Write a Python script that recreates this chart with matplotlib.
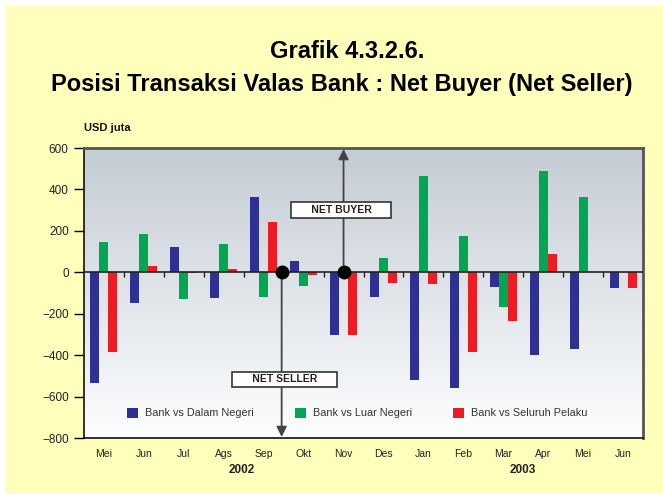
import numpy as np
import matplotlib
matplotlib.use("Agg")
import matplotlib.pyplot as plt
from matplotlib.patches import Rectangle
import matplotlib.transforms as mtransforms

plt.rcParams["font.family"] = ["Liberation Sans", "DejaVu Sans"]

months = ["Mei", "Jun", "Jul", "Ags", "Sep", "Okt", "Nov",
          "Des", "Jan", "Feb", "Mar", "Apr", "Mei", "Jun"]
dalam_negeri = [-535, -150, 122, -123, 364, 55, -305,
                -118, -520, -558, -70, -400, -371, -75]
luar_negeri = [145, 185, -130, 137, -118, -65, 0,
               70, 465, 175, -166, 490, 364, 0]
seluruh_pelaku = [-385, 30, -3, 17, 243, -12, -305,
                  -50, -55, -384, -234, 88, 0, -75]
years = ["2002", "2003"]
year_pos = [3.46, 10.5]

c_blue = "#2E3192"
c_green = "#00A651"
c_red = "#ED1C24"
bg_yellow = "#FFFFBB"

fig = plt.figure(figsize=(6.63, 4.94), dpi=100)
fig.patch.set_facecolor("white")
fig.patches.append(Rectangle((5 / 663, 0), 1, 1 - 6 / 494, transform=fig.transFigure,
                             facecolor=bg_yellow, edgecolor="none", zorder=-10))

ax = fig.add_axes([84 / 663, 1 - 438 / 494, 559 / 663, 290 / 494])
ax.set_facecolor("none")

x = np.arange(len(months))
w = 0.225
ax.set_xlim(-0.5, len(months) - 0.5)

# vertical gradient in the plot area (grey-blue at top, white at bottom)
grad = np.linspace(0, 1, 256).reshape(-1, 1, 1)
top = np.array([196, 204, 212]) / 255
bot = np.array([253, 254, 255]) / 255
img = top + (bot - top) * grad
ax.imshow(img, aspect="auto", origin="upper",
          extent=(-0.5, len(months) - 0.5, -800, 600), zorder=0)
ax.set_ylim(-800, 600)

ax.bar(x - w, dalam_negeri, w, color=c_blue, zorder=2, label="Bank vs Dalam Negeri")
ax.bar(x, luar_negeri, w, color=c_green, zorder=2, label="Bank vs Luar Negeri")
ax.bar(x + w, seluruh_pelaku, w, color=c_red, zorder=2, label="Bank vs Seluruh Pelaku")

# zero line with small ticks between month groups
ax.axhline(0, color="#222222", linewidth=1.2, zorder=3)
ax.vlines(x[1:] - 0.5, -25, 0, color="#222222", linewidth=1.0, zorder=3)

# net buyer / net seller arrows
ax.annotate("", xy=(6, 595), xytext=(6, 0),
            arrowprops=dict(arrowstyle="-|>", color="#444444", lw=1.3,
                            mutation_scale=15, shrinkA=0, shrinkB=0), zorder=4)
ax.annotate("", xy=(4.45, -795), xytext=(4.45, 0),
            arrowprops=dict(arrowstyle="-|>", color="#444444", lw=1.3,
                            mutation_scale=15, shrinkA=0, shrinkB=0), zorder=4)
ax.plot([6, 4.45], [0, 0], "o", color="black", markersize=9, zorder=5)

box = dict(boxstyle="square,pad=0.25", facecolor="white", edgecolor="#333333", linewidth=1.2)
ax.text(5.94, 301, "      NET BUYER      ", ha="center", va="center", fontsize=7.5,
        fontweight="bold", color="#222222", bbox=box, zorder=6)
ax.text(4.53, -516, "      NET SELLER      ", ha="center", va="center", fontsize=7.5,
        fontweight="bold", color="#222222", bbox=box, zorder=6)

leg = ax.legend(loc="center left", bbox_to_anchor=(0.077, -680), ncol=3,
                bbox_transform=mtransforms.blended_transform_factory(ax.transAxes, ax.transData),
                frameon=False, fontsize=7.8, handlelength=1.0, handleheight=1.0,
                handletextpad=0.65, columnspacing=3.8, borderaxespad=0, borderpad=0)
for t in leg.get_texts():
    t.set_color("#333333")

# axes styling
for s in ["left", "bottom"]:
    ax.spines[s].set_color("#111111")
    ax.spines[s].set_linewidth(1.2)
for s in ["top", "right"]:
    ax.spines[s].set_color("#555555")
    ax.spines[s].set_linewidth(2.0)

ax.set_yticks(np.arange(-800, 601, 200))
ax.tick_params(axis="y", direction="out", length=7, width=1.0, labelsize=8.5,
               labelcolor="#222222", pad=4)
ax.set_xticks(x)
ax.set_xticklabels(months)
ax.tick_params(axis="x", length=0, labelsize=7.5, labelcolor="#222222", pad=8)

trans = mtransforms.blended_transform_factory(ax.transData, ax.transAxes)
for yr, xp in zip(years, year_pos):
    ax.text(xp, -0.11, yr, transform=trans, ha="center", va="center",
            fontsize=8.5, fontweight="bold", color="#222222")

ax.text(0, 1.07, "USD juta", transform=ax.transAxes, ha="left", va="center",
        fontsize=8, fontweight="bold", color="#111111")

fig.text(0.523, 1 - 52 / 494, "Grafik 4.3.2.6.", ha="center", va="center",
         fontsize=17, fontweight="bold", color="black")
fig.text(0.516, 1 - 84 / 494, "Posisi Transaksi Valas Bank : Net Buyer (Net Seller)",
         ha="center", va="center", fontsize=17, fontweight="bold", color="black")

fig.savefig("out.png", dpi=100, facecolor=fig.get_facecolor())
